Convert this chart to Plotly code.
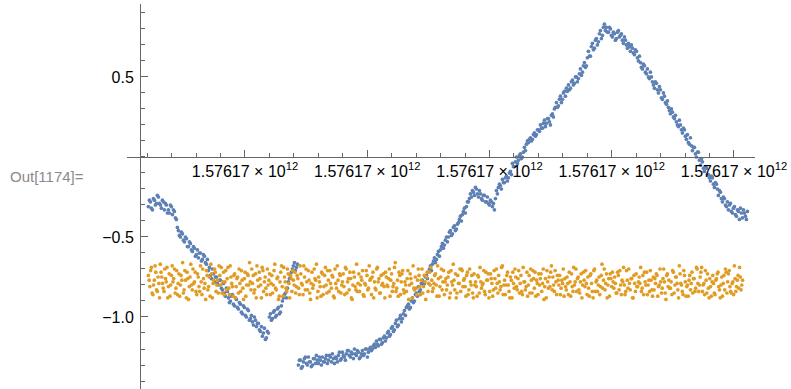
import numpy as np
import plotly.graph_objects as go

# Sample times (ms since epoch) of the two recorded channels
BLUE_T_START, BLUE_T_END = 1576170021000, 1576170511000
ORANGE_T_START, ORANGE_T_END = 1576170021000, 1576170507000

# Blue channel: even-numbered samples
blue_even = [
    -0.31, -0.28, -0.33, -0.27, -0.29, -0.25, -0.30, -0.27, -0.33, -0.30,
    -0.33, -0.30, -0.36, -0.34, -0.39, -0.46, -0.50, -0.48, -0.53, -0.51,
    -0.56, -0.54, -0.59, -0.57, -0.61, -0.63, -0.60, -0.64, -0.62, -0.67,
    -0.71, -0.74, -0.70, -0.78, -0.75, -0.80, -0.77, -0.83, -0.85, -0.82,
    -0.88, -0.90, -0.86, -0.93, -0.89, -0.95, -0.92, -0.98, -0.94, -1.00,
    -0.96, -1.01, -1.03, -1.00, -1.06, -1.04, -1.09, -1.12, -1.07, -1.13,
    -1.10, -0.98, -1.01, -0.96, -0.99, -0.94, -0.97, -0.90, -0.86, -0.88,
    -0.78, -0.74, -0.70, -0.66, -0.69, -1.30, -1.27, -1.31, -1.26, -1.29,
    -1.25, -1.28, -1.30, -1.26, -1.24, -1.29, -1.27, -1.25, -1.28, -1.24,
    -1.27, -1.25, -1.23, -1.29, -1.26, -1.24, -1.27, -1.22, -1.25, -1.23,
    -1.21, -1.25, -1.23, -1.20, -1.24, -1.22, -1.25, -1.21, -1.23, -1.20,
    -1.22, -1.19, -1.20, -1.17, -1.15, -1.18, -1.14, -1.16, -1.12, -1.13,
    -1.09, -1.11, -1.06, -1.08, -1.02, -1.05, -0.99, -1.01, -0.96, -0.94,
    -0.92, -0.94, -0.88, -0.90, -0.85, -0.81, -0.83, -0.77, -0.79, -0.74,
    -0.72, -0.68, -0.67, -0.63, -0.64, -0.59, -0.58, -0.54, -0.55, -0.50,
    -0.50, -0.46, -0.48, -0.43, -0.45, -0.41, -0.37, -0.36, -0.32, -0.31,
    -0.28, -0.23, -0.21, -0.24, -0.20, -0.25, -0.23, -0.27, -0.24, -0.28,
    -0.29, -0.27, -0.31, -0.33, -0.21, -0.19, -0.18, -0.14, -0.16, -0.12,
    -0.13, -0.09, -0.04, -0.06, 0.00, -0.02, 0.02, 0.00, 0.06, 0.08,
    0.09, 0.12, 0.11, 0.15, 0.14, 0.17, 0.20, 0.18, 0.23, 0.21,
    0.24, 0.20, 0.27, 0.30, 0.34, 0.32, 0.38, 0.36, 0.41, 0.43,
    0.45, 0.43, 0.48, 0.46, 0.50, 0.49, 0.55, 0.53, 0.59, 0.57,
    0.66, 0.63, 0.71, 0.68, 0.74, 0.72, 0.79, 0.76, 0.83, 0.81,
    0.78, 0.80, 0.75, 0.77, 0.74, 0.79, 0.76, 0.73, 0.75, 0.70,
    0.71, 0.66, 0.68, 0.64, 0.66, 0.60, 0.59, 0.55, 0.57, 0.52,
    0.50, 0.53, 0.47, 0.43, 0.46, 0.40, 0.42, 0.36, 0.38, 0.33,
    0.31, 0.27, 0.28, 0.24, 0.22, 0.19, 0.20, 0.15, 0.17, 0.11,
    0.09, 0.12, 0.04, 0.06, 0.00, 0.03, -0.05, -0.03, -0.09, -0.07,
    -0.11, -0.15, -0.13, -0.19, -0.17, -0.24, -0.22, -0.28, -0.26, -0.31,
    -0.33, -0.29, -0.35, -0.31, -0.37, -0.34, -0.32, -0.38, -0.35, -0.39,
]

# Blue channel: odd-numbered samples
blue_odd = [
    -0.27, -0.32, -0.26, -0.30, -0.24, -0.29, -0.32, -0.28, -0.29, -0.35,
    -0.35, -0.31, -0.33, -0.38, -0.44, -0.49, -0.47, -0.52, -0.50, -0.56,
    -0.53, -0.58, -0.56, -0.62, -0.58, -0.60, -0.65, -0.61, -0.66, -0.64,
    -0.69, -0.76, -0.73, -0.75, -0.79, -0.77, -0.82, -0.79, -0.87, -0.84,
    -0.91, -0.87, -0.92, -0.88, -0.94, -0.91, -0.97, -0.93, -0.99, -0.95,
    -1.02, -0.99, -1.05, -1.02, -1.04, -1.08, -1.06, -1.10, -1.14, -1.09,
    -1.00, -1.02, -0.97, -1.00, -0.95, -0.98, -0.93, -0.88, -0.85, -0.82,
    -0.76, -0.72, -0.68, -0.71, -0.67, -1.27, -1.32, -1.28, -1.25, -1.30,
    -1.28, -1.31, -1.26, -1.29, -1.27, -1.25, -1.30, -1.28, -1.26, -1.29,
    -1.24, -1.28, -1.26, -1.25, -1.28, -1.22, -1.26, -1.24, -1.27, -1.21,
    -1.24, -1.22, -1.26, -1.23, -1.21, -1.26, -1.23, -1.24, -1.20, -1.25,
    -1.20, -1.21, -1.18, -1.19, -1.17, -1.14, -1.17, -1.13, -1.15, -1.10,
    -1.12, -1.07, -1.09, -1.04, -1.06, -1.01, -1.03, -0.98, -0.99, -0.93,
    -0.95, -0.90, -0.91, -0.86, -0.87, -0.84, -0.79, -0.80, -0.75, -0.76,
    -0.70, -0.71, -0.65, -0.66, -0.61, -0.62, -0.56, -0.57, -0.52, -0.53,
    -0.47, -0.49, -0.44, -0.46, -0.42, -0.39, -0.40, -0.34, -0.35, -0.28,
    -0.26, -0.25, -0.22, -0.19, -0.23, -0.21, -0.26, -0.24, -0.28, -0.25,
    -0.30, -0.28, -0.29, -0.26, -0.23, -0.17, -0.20, -0.16, -0.13, -0.15,
    -0.10, -0.11, -0.06, -0.03, -0.04, 0.01, -0.01, 0.03, 0.04, 0.10,
    0.11, 0.10, 0.14, 0.13, 0.17, 0.16, 0.18, 0.21, 0.19, 0.24,
    0.22, 0.26, 0.25, 0.31, 0.31, 0.36, 0.34, 0.40, 0.38, 0.41,
    0.42, 0.47, 0.45, 0.50, 0.47, 0.52, 0.51, 0.57, 0.56, 0.62,
    0.63, 0.69, 0.67, 0.73, 0.70, 0.77, 0.74, 0.81, 0.79, 0.78,
    0.81, 0.76, 0.78, 0.73, 0.78, 0.75, 0.77, 0.71, 0.73, 0.68,
    0.69, 0.70, 0.65, 0.67, 0.62, 0.63, 0.56, 0.58, 0.53, 0.55,
    0.49, 0.50, 0.45, 0.47, 0.42, 0.44, 0.37, 0.40, 0.34, 0.35,
    0.29, 0.30, 0.25, 0.26, 0.20, 0.23, 0.17, 0.18, 0.13, 0.14,
    0.08, 0.07, 0.06, 0.02, 0.03, -0.02, -0.01, -0.07, -0.06, -0.11,
    -0.13, -0.12, -0.17, -0.16, -0.20, -0.21, -0.26, -0.25, -0.30, -0.28,
    -0.30, -0.34, -0.32, -0.36, -0.33, -0.39, -0.35, -0.33, -0.37, -0.34,
]

# Orange channel: even-numbered samples
orange_even = [
    -0.74, -0.81, -0.69, -0.86, -0.77, -0.72, -0.84, -0.79, -0.67, -0.75,
    -0.82, -0.70, -0.78, -0.88, -0.73, -0.80, -0.68, -0.76, -0.85, -0.71,
    -0.79, -0.87, -0.74, -0.66, -0.83, -0.77, -0.72, -0.89, -0.75, -0.80,
    -0.70, -0.78, -0.84, -0.73, -0.81, -0.68, -0.86, -0.76, -0.79, -0.71,
    -0.83, -0.75, -0.67, -0.88, -0.77, -0.72, -0.80, -0.85, -0.74, -0.69,
    -0.78, -0.86, -0.71, -0.76, -0.82, -0.68, -0.79, -0.87, -0.73, -0.81,
    -0.75, -0.70, -0.84, -0.77, -0.89, -0.72, -0.80, -0.74, -0.66, -0.83,
    -0.79, -0.85, -0.73, -0.68, -0.81, -0.76, -0.88, -0.71, -0.78, -0.82,
    -0.70, -0.77, -0.86, -0.74, -0.80, -0.67, -0.83, -0.75, -0.87, -0.72,
    -0.81, -0.69, -0.78, -0.84, -0.73, -0.88, -0.76, -0.71, -0.80, -0.85,
    -0.74, -0.82, -0.68, -0.79, -0.86, -0.75, -0.70, -0.83, -0.77, -0.89,
    -0.72, -0.80, -0.76, -0.67, -0.84, -0.78, -0.87, -0.73, -0.81, -0.69,
    -0.85, -0.77, -0.71, -0.82, -0.75, -0.88, -0.79, -0.68, -0.84, -0.74,
    -0.80, -0.73, -0.86, -0.70, -0.78, -0.83, -0.76, -0.89, -0.72, -0.81,
    -0.67, -0.79, -0.84, -0.75, -0.71, -0.87, -0.80, -0.74, -0.82, -0.77,
    -0.86, -0.72, -0.78, -0.83, -0.69, -0.76, -0.85, -0.80, -0.73, -0.88,
    -0.75, -0.81, -0.70, -0.77, -0.84, -0.79, -0.66, -0.82, -0.87, -0.74,
    -0.78, -0.71, -0.85, -0.80, -0.76, -0.89, -0.73, -0.79, -0.68, -0.83,
    -0.82, -0.77, -0.74, -0.86, -0.70, -0.81, -0.78, -0.75, -0.84, -0.72,
    -0.69, -0.84, -0.79, -0.73, -0.87, -0.76, -0.81, -0.70, -0.78, -0.86,
    -0.76, -0.80, -0.72, -0.85, -0.78, -0.67, -0.83, -0.88, -0.74, -0.79,
    -0.84, -0.71, -0.77, -0.81, -0.74, -0.86, -0.70, -0.80, -0.85, -0.73,
    -0.78, -0.87, -0.75, -0.69, -0.82, -0.79, -0.84, -0.72, -0.77, -0.88,
    -0.73, -0.79, -0.83, -0.76, -0.70, -0.85, -0.78, -0.81, -0.68, -0.80,
    -0.86, -0.74, -0.80, -0.88, -0.77, -0.72, -0.82, -0.75, -0.83, -0.71,
    -0.79, -0.84, -0.69, -0.78, -0.81, -0.87, -0.74, -0.70, -0.85, -0.76,
    -0.72, -0.77, -0.86, -0.80, -0.73, -0.79, -0.89, -0.76, -0.71, -0.82,
    -0.81, -0.68, -0.75, -0.84, -0.78, -0.74, -0.80, -0.86, -0.77, -0.70,
    -0.76, -0.83, -0.79, -0.72, -0.87, -0.81, -0.69, -0.78, -0.84, -0.75,
    -0.85, -0.73, -0.80, -0.77, -0.71, -0.86, -0.82, -0.74, -0.79, -0.88,
    -0.70, -0.78, -0.84, -0.75, -0.81, -0.67, -0.77, -0.83, -0.73, -0.80,
    -0.87, -0.76, -0.72, -0.82, -0.79, -0.85, -0.74, -0.71, -0.86, -0.78,
    -0.80, -0.84, -0.77, -0.70, -0.83, -0.76, -0.88, -0.79, -0.73, -0.81,
    -0.75, -0.69, -0.82, -0.86, -0.78, -0.72, -0.80, -0.84, -0.77, -0.87,
    -0.83, -0.79, -0.74, -0.81, -0.70, -0.85, -0.76, -0.78, -0.89, -0.73,
    -0.77, -0.82, -0.86, -0.72, -0.80, -0.75, -0.83, -0.68, -0.79, -0.84,
    -0.71, -0.78, -0.81, -0.87, -0.74, -0.79, -0.85, -0.76, -0.82, -0.70,
    -0.84, -0.75, -0.69, -0.80, -0.86, -0.77, -0.73, -0.88, -0.81, -0.78,
    -0.79, -0.86, -0.76, -0.72, -0.83, -0.80, -0.87, -0.74, -0.70, -0.85,
    -0.73, -0.81, -0.85, -0.78, -0.68, -0.84, -0.77, -0.82, -0.75, -0.80,
]

# Orange channel: odd-numbered samples
orange_odd = [
    -0.77, -0.71, -0.85, -0.80, -0.68, -0.83, -0.75, -0.88, -0.72, -0.79,
    -0.84, -0.76, -0.69, -0.81, -0.87, -0.74, -0.78, -0.70, -0.82, -0.86,
    -0.73, -0.80, -0.77, -0.85, -0.71, -0.88, -0.76, -0.81, -0.67, -0.83,
    -0.79, -0.72, -0.86, -0.75, -0.84, -0.78, -0.70, -0.82, -0.89, -0.74,
    -0.81, -0.87, -0.73, -0.79, -0.70, -0.84, -0.77, -0.68, -0.80, -0.85,
    -0.72, -0.78, -0.83, -0.69, -0.86, -0.75, -0.81, -0.74, -0.88, -0.76,
    -0.85, -0.79, -0.71, -0.82, -0.76, -0.87, -0.73, -0.80, -0.78, -0.70,
    -0.74, -0.83, -0.88, -0.77, -0.72, -0.80, -0.69, -0.84, -0.75, -0.86,
    -0.80, -0.73, -0.79, -0.85, -0.71, -0.82, -0.76, -0.89, -0.78, -0.68,
    -0.87, -0.75, -0.82, -0.70, -0.79, -0.74, -0.84, -0.77, -0.72, -0.81,
    -0.76, -0.86, -0.73, -0.80, -0.68, -0.83, -0.78, -0.71, -0.85, -0.79,
    -0.82, -0.70, -0.77, -0.88, -0.75, -0.81, -0.72, -0.86, -0.74, -0.80,
    -0.71, -0.84, -0.79, -0.74, -0.87, -0.70, -0.82, -0.77, -0.73, -0.85,
    -0.78, -0.81, -0.69, -0.85, -0.76, -0.72, -0.88, -0.80, -0.75, -0.83,
    -0.84, -0.73, -0.80, -0.77, -0.86, -0.79, -0.71, -0.83, -0.68, -0.76,
    -0.75, -0.88, -0.82, -0.70, -0.78, -0.85, -0.74, -0.79, -0.81, -0.72,
    -0.80, -0.76, -0.87, -0.73, -0.81, -0.69, -0.84, -0.77, -0.72, -0.86,
    -0.73, -0.83, -0.78, -0.84, -0.71, -0.80, -0.76, -0.88, -0.82, -0.75,
    -0.86, -0.70, -0.81, -0.77, -0.85, -0.74, -0.89, -0.72, -0.79, -0.80,
    -0.77, -0.82, -0.74, -0.80, -0.68, -0.87, -0.75, -0.83, -0.71, -0.78,
    -0.83, -0.75, -0.88, -0.71, -0.80, -0.77, -0.73, -0.85, -0.79, -0.70,
    -0.70, -0.81, -0.76, -0.87, -0.72, -0.83, -0.78, -0.74, -0.88, -0.80,
    -0.81, -0.74, -0.85, -0.78, -0.80, -0.71, -0.86, -0.77, -0.73, -0.84,
    -0.76, -0.87, -0.71, -0.82, -0.79, -0.74, -0.83, -0.69, -0.86, -0.77,
    -0.80, -0.72, -0.84, -0.75, -0.88, -0.79, -0.70, -0.81, -0.76, -0.85,
    -0.74, -0.86, -0.78, -0.83, -0.72, -0.80, -0.85, -0.77, -0.71, -0.82,
    -0.87, -0.79, -0.73, -0.76, -0.84, -0.70, -0.81, -0.88, -0.78, -0.75,
    -0.72, -0.83, -0.80, -0.71, -0.86, -0.77, -0.74, -0.82, -0.79, -0.87,
    -0.81, -0.75, -0.86, -0.78, -0.73, -0.84, -0.80, -0.70, -0.76, -0.83,
    -0.78, -0.88, -0.72, -0.81, -0.79, -0.75, -0.87, -0.73, -0.84, -0.71,
    -0.84, -0.77, -0.80, -0.86, -0.74, -0.82, -0.70, -0.79, -0.88, -0.76,
    -0.73, -0.81, -0.78, -0.75, -0.85, -0.72, -0.83, -0.80, -0.77, -0.69,
    -0.86, -0.71, -0.82, -0.79, -0.76, -0.88, -0.74, -0.84, -0.81, -0.78,
    -0.79, -0.84, -0.74, -0.72, -0.80, -0.86, -0.77, -0.71, -0.83, -0.75,
    -0.76, -0.73, -0.87, -0.80, -0.78, -0.82, -0.70, -0.85, -0.74, -0.81,
    -0.82, -0.78, -0.71, -0.85, -0.75, -0.79, -0.88, -0.73, -0.80, -0.86,
    -0.74, -0.87, -0.80, -0.77, -0.83, -0.72, -0.76, -0.84, -0.69, -0.79,
    -0.80, -0.72, -0.84, -0.79, -0.71, -0.85, -0.82, -0.76, -0.87, -0.74,
    -0.85, -0.77, -0.73, -0.81, -0.88, -0.75, -0.79, -0.83, -0.72, -0.78,
    -0.71, -0.84, -0.79, -0.86, -0.76, -0.81, -0.74, -0.69, -0.83, -0.77,
]

# Axis ticks
x_major_ticks = [1576170100000, 1576170200000, 1576170300000, 1576170400000, 1576170500000]
x_tick_labels = ["1.57617 × 10<sup>12</sup>"] * len(x_major_ticks)
y_major_ticks = [-1.0, -0.5, 0.5]
y_tick_labels = ["−1.0", "−0.5", "0.5"]

BLUE = "#5E81B5"
ORANGE = "#E19C24"
AXIS = "#666666"


def interleave(even, odd):
    out = []
    for a, b in zip(even, odd):
        out.extend([a, b])
    return out


blue_y = interleave(blue_even, blue_odd)
orange_y = interleave(orange_even, orange_odd)
blue_t = np.linspace(BLUE_T_START, BLUE_T_END, len(blue_y))
orange_t = np.linspace(ORANGE_T_START, ORANGE_T_END, len(orange_y))

W, H = 791, 389
ML, MR, MT, MB = 127, 36, 4, 0
x_range = [1576170003500, 1576170517200]
y_range = [-1.45, 0.956]

plot_w = W - ML - MR
plot_h = H - MT - MB
yaxis_pos = (140 - ML) / plot_w
xaxis_pos = (0 - y_range[0]) / (y_range[1] - y_range[0])

fig = go.Figure()
fig.add_trace(go.Scatter(x=blue_t, y=blue_y, mode="markers",
                         marker=dict(color=BLUE, size=3.7, line=dict(width=0)),
                         showlegend=False, hoverinfo="skip"))
fig.add_trace(go.Scatter(x=orange_t, y=orange_y, mode="markers",
                         marker=dict(color=ORANGE, size=3.7, line=dict(width=0)),
                         showlegend=False, hoverinfo="skip"))

fig.update_layout(
    width=W, height=H,
    margin=dict(l=ML, r=MR, t=MT, b=MB, autoexpand=False),
    paper_bgcolor="white", plot_bgcolor="white",
    font=dict(family="Liberation Sans, Arial, sans-serif", size=16, color="#000000"),
    xaxis=dict(
        type="linear", range=x_range, domain=[0, 1],
        anchor="free", position=xaxis_pos,
        showline=True, linecolor=AXIS, linewidth=1,
        showgrid=False, zeroline=False,
        tickmode="array", tickvals=x_major_ticks, ticktext=x_tick_labels,
        ticks="inside", ticklen=7, tickwidth=1, tickcolor=AXIS,
        tickfont=dict(size=16),
        minor=dict(ticks="inside", ticklen=4, tickwidth=1, tickcolor=AXIS,
                   tick0=1576170100000, dtick=20000, showgrid=False),
    ),
    yaxis=dict(
        range=y_range, domain=[0, 1],
        anchor="free", position=yaxis_pos,
        showline=True, linecolor=AXIS, linewidth=1,
        showgrid=False, zeroline=False,
        tickmode="array", tickvals=y_major_ticks, ticktext=y_tick_labels,
        ticks="inside", ticklen=7, tickwidth=1, tickcolor=AXIS,
        tickfont=dict(size=16), ticklabelstandoff=3,
        minor=dict(ticks="inside", ticklen=4, tickwidth=1, tickcolor=AXIS,
                   tick0=0, dtick=0.1, showgrid=False),
    ),
    annotations=[dict(
        text="Out[1174]=", showarrow=False,
        xref="paper", yref="paper",
        x=(8 - ML) / plot_w, y=(H - MB - 176) / plot_h,
        xanchor="left", yanchor="middle",
        font=dict(size=15, color="#8a8a8a"),
    )],
)

fig.write_html("out.html")
